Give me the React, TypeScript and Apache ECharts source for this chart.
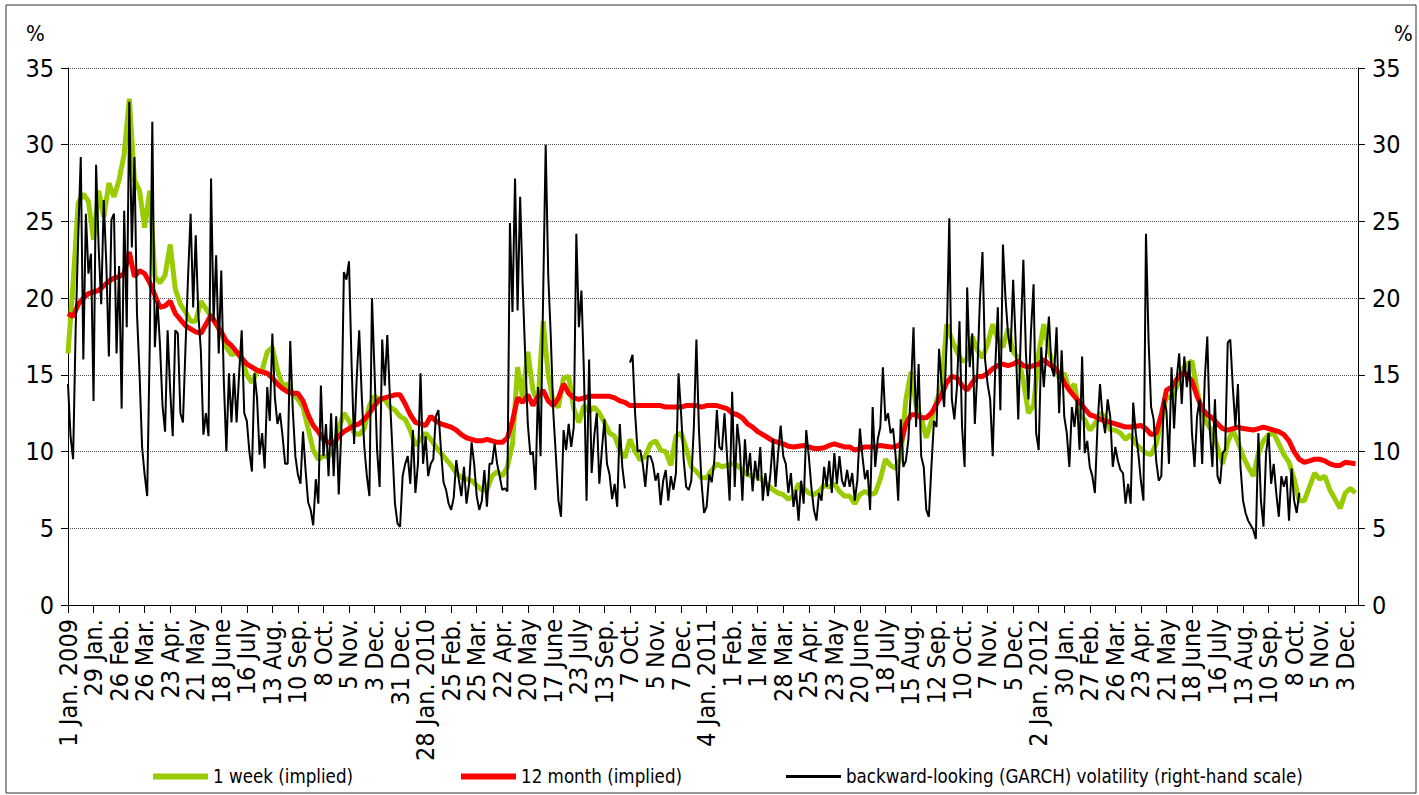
import React, { useEffect, useRef } from 'react';
import * as echarts from 'echarts';

// ---- tick labels (one every 20 business days) ----
const xLabels = [
  '1 Jan. 2009', '29 Jan.', '26 Feb.', '26 Mar.', '23 Apr.', '21 May', '18 June', '16 July', '13 Aug.', '10 Sep.',
  '8 Oct.', '5 Nov.', '3 Dec.', '31 Dec.', '28 Jan. 2010', '25 Feb.', '25 Mar.', '22 Apr.', '20 May', '17 June',
  '23 July', '13 Sep.', '7 Oct.', '5 Nov.', '7 Dec.', '4 Jan. 2011', '1 Feb.', '1 Mar.', '28 Mar.', '25 Apr.',
  '23 May', '20 June', '18 July', '15 Aug.', '12 Sep.', '10 Oct.', '7 Nov.', '5 Dec.', '2 Jan. 2012', '30 Jan.',
  '27 Feb.', '26 Mar.', '23 Apr.', '21 May', '18 June', '16 July', '13 Aug.', '10 Sep.', '8 Oct.', '5 Nov.', '3 Dec.',
];

// x unit: 1 = 4 business days; 5 units between two tick labels
const UNITS_PER_LABEL = 5;
const X_MAX = 252.5;
const WEEK_STEP = 1;   // 1 week / 12 month series sampling
const GARCH_STEP = 0.5; // GARCH series sampling

// ---- 1 week (implied), % ----
const oneWeek = [
  16.4, 21, 26.2, 26.8, 26.3, 23.8, 27, 25.3, 27.5, 26.6,
  27.7, 29.4, 33, 27.7, 27, 24.6, 27, 21.4, 21, 21.5,
  23.5, 20.6, 19.6, 19.1, 18.5, 18.5, 19.8, 19.3, 18.8, 18.3,
  17.7, 16.8, 16.3, 16.5, 16, 15, 14.5, 15.2, 15.3, 16.5,
  16.8, 15.3, 14.3, 14.4, 13.8, 13.4, 12.9, 11.5, 10.1, 9.5,
  9.7, 9.7, 10.1, 11.5, 12.5, 12, 11.2, 11.1, 11.5, 13,
  13.6, 13.4, 13.4, 12.9, 12.7, 12.3, 12.1, 11.4, 10.4, 10.8,
  11.2, 10.8, 10.3, 9.9, 9.5, 9.1, 8.6, 8.3, 8.2, 8.1,
  7.8, 7.5, 7.5, 8.4, 8.7, 8.4, 9, 10.5, 15.5, 13.5,
  16.5, 14, 13.2, 18.5, 15, 13.2, 12.9, 14.8, 14.9, 12.8,
  11.9, 13, 12.6, 12.9, 12.5, 11.9, 11.2, 11, 10.1, 9.6,
  10.8, 10, 9.45, 9.7, 10.5, 10.7, 10.1, 10, 9.1, 11,
  11.2, 10.2, 9, 8.7, 8.3, 8.3, 8.8, 9.2, 9, 9.1,
  9.2, 9.1, 8.8, 8.5, 8.4, 8.4, 8.1, 7.8, 7.5, 7.3,
  7.2, 6.9, 7.1, 7.9, 7.6, 7.3, 7.2, 7.4, 7.8, 7.7,
  7.9, 7.4, 7.1, 7.1, 6.6, 7.2, 7.4, 7.2, 7.3, 8.2,
  9.5, 9.1, 8.9, 9.6, 13.4, 15.2, 13, 12.2, 10.9, 12,
  13.3, 14.2, 18.3, 17.3, 16.5, 15.9, 16, 17.5, 16.6, 16.1,
  17, 18.3, 17.3, 16.8, 18, 16.5, 16.1, 14.6, 12.5, 13,
  16.4, 18.3, 16.6, 15.5, 14.8, 15.1, 14, 14.4, 12.4, 12.1,
  11.4, 11.8, 12.5, 12.3, 11.4, 11.4, 11.2, 10.8, 11.1, 10.5,
  10.2, 9.9, 9.8, 10.5, 12, 13.6, 13.5, 14.2, 15.3, 15.7,
  15.9, 14, 12.5, 11.8, 11.3, 10.3, 9.2, 10.6, 11.4, 10.6,
  9.7, 9, 8.4, 9.9, 10.7, 11.1, 11.2, 10.5, 9.8, 9.3,
  8.2, 6.8, 6.8, 7.7, 8.6, 8.2, 8.4, 7.5, 6.9, 6.3,
  7.3, 7.6, 7.3,
];

// ---- 12 month (implied), % ----
const twelveMonth = [
  19.0, 18.8, 19.6, 20.0, 20.3, 20.4, 20.5, 20.8, 21.1, 21.3,
  21.4, 21.6, 23.0, 21.4, 21.8, 21.6, 21, 20.2, 19.4, 19.5,
  19.8, 19.0, 18.6, 18.2, 18, 17.8, 17.7, 18.3, 18.9, 18.3,
  17.8, 17.2, 16.9, 16.5, 16.1, 15.7, 15.5, 15.3, 15.2, 15.1,
  14.8, 14.4, 14.1, 13.9, 13.8, 13.8, 13.3, 12.4, 11.7, 11.3,
  10.8, 10.6, 10.5, 11.0, 11.3, 11.5, 11.7, 11.8, 12.1, 12.5,
  13.0, 13.4, 13.5, 13.6, 13.7, 13.7, 13.1, 12.4, 11.9, 11.8,
  11.7, 12.3, 12.0, 11.8, 11.7, 11.6, 11.4, 11.1, 10.9, 10.8,
  10.7, 10.7, 10.8, 10.7, 10.6, 10.6, 10.9, 12, 13.5, 13.2,
  13.7, 13, 13.6, 14.0, 13.3, 13.0, 13.5, 14.4, 13.8, 13.5,
  13.4, 13.5, 13.6, 13.6, 13.6, 13.6, 13.6, 13.5, 13.3, 13.2,
  13.0, 13.0, 13.0, 13.0, 13.0, 13.0, 13.0, 12.9, 12.9, 12.9,
  12.9, 13.0, 13.0, 13.0, 12.9, 13.0, 13.0, 13.0, 12.9, 12.8,
  12.5, 12.4, 12.2, 11.8, 11.6, 11.3, 11.1, 10.9, 10.7, 10.6,
  10.5, 10.35, 10.3, 10.35, 10.4, 10.3, 10.2, 10.2, 10.25, 10.4,
  10.5, 10.4, 10.3, 10.3, 10.1, 10.2, 10.3, 10.3, 10.3, 10.4,
  10.35, 10.3, 10.3, 10.5, 11.8, 12.4, 12.4, 12.2, 12.2, 12.5,
  13.1, 13.7, 14.5, 14.9, 14.8, 14.3, 14, 14.5, 14.9, 14.9,
  15.1, 15.4, 15.6, 15.7, 15.6, 15.7, 15.9, 15.6, 15.5, 15.6,
  15.7, 16.0, 15.7, 15.5, 15.1, 14.5, 14, 13.6, 13.2, 12.8,
  12.4, 12.3, 12.1, 12.0, 11.9, 11.8, 11.7, 11.6, 11.6, 11.65,
  11.7, 11.5, 11.1, 11.2, 12.4, 14, 14.2, 14.7, 15.1, 15.0,
  14.6, 13.6, 12.8, 12.4, 12.2, 11.8, 11.5, 11.4, 11.5, 11.6,
  11.5, 11.45, 11.4, 11.5, 11.6, 11.5, 11.4, 11.3, 11.1, 10.7,
  10.0, 9.5, 9.3, 9.4, 9.5, 9.5, 9.4, 9.2, 9.1, 9.1,
  9.3, 9.25, 9.2,
];

// ---- backward-looking (GARCH) volatility, % (right-hand scale) ----
const garch: (number | null)[] = [
  14.4, 11, 9.5, 18, 24, 29.2, 16, 25.5, 21.6, 22.9,
  13.3, 28.7, 23.3, 19.6, 26.4, 22.2, 16.2, 25.1, 25.5, 16.4,
  22.1, 12.8, 25.7, 18.1, 32.8, 23.3, 29.2, 19, 15.1, 10.3,
  8.5, 7.1, 17, 31.5, 16.8, 19.8, 17, 13, 11.3, 17.9,
  14, 11, 17.9, 17.7, 12.5, 11.9, 16.8, 21.4, 25.5, 19.4,
  24.1, 19, 16.6, 11.1, 12.5, 11, 27.8, 18.5, 22.8, 16.4,
  21.8, 14.6, 10, 15.1, 11.9, 15.1, 11.9, 15.1, 17.9, 12.5,
  12, 10, 8.7, 15.1, 13.5, 9.8, 11.2, 8.9, 14.2, 12,
  17.7, 13.5, 11.8, 12.5, 11, 9.2, 9.2, 17.2, 12.7, 9.7,
  8.5, 7.9, 11.3, 8.8, 6.7, 6.2, 5.2, 8.2, 6.6, 14.3,
  9.7, 11.8, 8.4, 12.5, 8.4, 12.3, 7.2, 11.4, 21.7, 21.2,
  22.4, 15.8, 10.5, 14.7, 17.9, 13.6, 10.3, 8.4, 7.1, 20,
  15.2, 10.1, 7.7, 17.3, 14.3, 17.6, 13.6, 10.1, 6.6, 5.3,
  5.1, 8.4, 9.2, 9.7, 7.9, 11.4, 7.3, 9.2, 15.1, 9.2,
  11, 8.4, 9.2, 9.5, 12.3, 12.7, 10.1, 8, 7.5, 6.6,
  6.2, 7, 9.45, 8.15, 7.1, 9, 6.6, 7.9, 10.6, 9.2,
  7.1, 6.2, 6.8, 8.8, 6.4, 9.2, 9.2, 10.5, 9.2, 8.4,
  7.5, 7.6, 7.4, 24.9, 19.1, 27.8, 19.2, 26.6, 20.8, 16.2,
  11.8, 9.8, 10, 7.5, 14.2, 9.7, 20.1, 30, 21.5, 17.5,
  12.5, 9.7, 6.8, 5.75, 11.4, 10.1, 11.8, 10.3, 11.6, 24.2,
  18.1, 20.5, 15, 6.8, 16, 8.6, 11, 12.5, 7.9, 10.1,
  12.1, 9.2, 8.5, 6.9, 7.9, 6.4, 11.8, 9, 7.6, null,
  15.8, 16.3, 12.5, 10, 10.1, 9.2, 7.7, 9.7, 9.7, 9.2,
  8.1, 8.6, 6.5, 8.1, 8.8, 6.8, 8.4, 7.5, 8.6, 15.1,
  12.5, 9.5, 7.7, 7.5, 8.1, 11.6, 17.3, 11.4, 8, 6,
  6.4, 8.5, 8, 9.4, 12.7, 10.3, 10.1, 12.5, 9.7, 6.8,
  13.9, 7.7, 11.8, 10.3, 6.8, 10.8, 8.4, 9.9, 7.4, 9.4,
  8.1, 10.3, 6.8, 8.6, 7.1, 8.6, 10.8, 7.7, 9.9, 11.7,
  9.7, 9.2, 7.3, 8.6, 6.4, 7.5, 5.5, 8.1, 6.6, 11.4,
  9.7, 7.7, 6.2, 5.5, 7.3, 6.8, 9, 7.7, 9.4, 7.3,
  9.9, 7.9, 9.7, 8.1, 7.7, 8.8, 7.7, 8.6, 6.8, 8.1,
  11.5, 9.7, 8.2, 8.8, 6.2, 12.9, 9, 10.8, 11.6, 15.5,
  12, 12.5, 11.2, 11.5, 9.7, 6.8, 12.1, 9, 9.4, 10.8,
  14.2, 18.1, 11.6, 15.7, 9.7, 9, 6.2, 5.75, 9, 12,
  11.6, 16.7, 14.4, 12.9, 17.3, 25.2, 13.4, 12.1, 14.2, 18.5,
  11.6, 9, 20.7, 15.5, 17.7, 11.8, 15.3, 19.9, 23, 16,
  14.4, 13.4, 9.7, 15.5, 19.4, 12.7, 23.5, 20, 17.7, 16.5,
  21.2, 17.1, 12.1, 17.7, 22.5, 16.4, 13.4, 17.9, 20.9, 11.2,
  10.1, 16.8, 14.2, 16.6, 18.8, 15.5, 14.9, 18.1, 12.5, 16.6,
  12.3, 11.2, 9, 12.9, 11.6, 13.4, 10.1, 16.2, 9.9, 10.7,
  9, 8.4, 7.3, 11.6, 14.4, 12.3, 11.2, 13.4, 12.3, 9,
  10.3, 9.4, 8.8, 8.6, 6.6, 7.9, 6.6, 13.2, 11.2, 9.9,
  8.1, 6.8, 24.2, 17.3, 12.9, 12.1, 9.4, 8.1, 8.4, 13.4,
  12.7, 9.2, 15.5, 11.5, 14.7, 16.4, 13.1, 16.2, 14.2, 15.9,
  11.2, 9, 12.3, 13.4, 9.2, 14.7, 17.5, 11.4, 9, 13.4,
  8.4, 7.9, 9.9, 10.1, 17.1, 17.3, 14.2, 11.6, 14.4, 9,
  6.8, 6, 5.5, 5.2, 4.9, 4.3, 11.2, 6.8, 5.1, 9.9,
  11.2, 7.9, 9.2, 7.3, 5.75, 8.4, 7.7, 8.4, 5.5, 8.9,
  6.8, 6, 7.3,
];

const seriesNames = [
  '1 week (implied)',
  '12 month (implied)',
  'backward-looking (GARCH) volatility (right-hand scale)',
];

const FONT = "'Liberation Sans Narrow', 'DejaVu Sans Condensed', 'Liberation Sans', sans-serif";

export default function App() {
  const ref = useRef<HTMLDivElement>(null);

  useEffect(() => {
    if (!ref.current) return;
    const chart = echarts.init(ref.current, undefined, { renderer: 'svg' });

    const toPairs = (arr: (number | null)[], step: number) =>
      arr.map((v, i) => [i * step, v === null ? '-' : v]);

    const yAxisCommon = {
      type: 'value',
      min: 0,
      max: 35,
      interval: 5,
      axisLine: { show: true, lineStyle: { color: '#000', width: 1 } },
      axisTick: { show: true, inside: false, length: 7, lineStyle: { color: '#000' } },
      axisLabel: { color: '#000', fontSize: 25, fontFamily: FONT, margin: 14 },
    };

    const legendCommon = {
      icon: 'rect',
      itemWidth: 55,
      top: 767,
      padding: 0,
      textStyle: { fontSize: 18.6, fontFamily: FONT, color: '#000' },
      selectedMode: false,
    };

    chart.setOption({
      animation: false,
      backgroundColor: '#fff',
      textStyle: { fontFamily: FONT },
      grid: { left: 68, right: 61, top: 68, bottom: 190, containLabel: false },
      xAxis: {
        type: 'value',
        min: 0,
        max: X_MAX,
        interval: UNITS_PER_LABEL,
        splitLine: { show: false },
        axisLine: { show: true, onZero: false, lineStyle: { color: '#000', width: 1 } },
        axisTick: { show: true, length: 8, lineStyle: { color: '#000' } },
        axisLabel: {
          rotate: 90,
          margin: 14,
          color: '#000',
          fontSize: 25,
          fontFamily: FONT,
          showMaxLabel: false,
          formatter: (v: number) => {
            const k = Math.round(v / UNITS_PER_LABEL);
            if (Math.abs(k * UNITS_PER_LABEL - v) > 1e-6) return '';
            return xLabels[k] ?? '';
          },
        },
      },
      yAxis: [
        {
          ...yAxisCommon,
          position: 'left',
          splitLine: { show: true, lineStyle: { color: '#555', type: 'dotted', width: 1 } },
        },
        {
          ...yAxisCommon,
          position: 'right',
          splitLine: { show: false },
        },
      ],
      legend: [
        { ...legendCommon, left: 153, itemHeight: 6, data: [seriesNames[0]] },
        { ...legendCommon, left: 461, itemHeight: 6, data: [seriesNames[1]] },
        { ...legendCommon, left: 786, itemHeight: 3, data: [seriesNames[2]] },
      ],
      graphic: [
        { type: 'rect', shape: { x: 6, y: 5, width: 1410, height: 788 }, style: { fill: 'none', stroke: '#333', lineWidth: 1 }, silent: true },
        { type: 'text', x: 26, y: 22, style: { text: '%', fontSize: 22, fontFamily: FONT, fill: '#000' } },
        { type: 'text', x: 1394, y: 22, style: { text: '%', fontSize: 22, fontFamily: FONT, fill: '#000' } },
      ],
      series: [
        {
          name: seriesNames[0],
          type: 'line',
          yAxisIndex: 0,
          color: '#99CC00',
          showSymbol: false,
          symbol: 'none',
          lineStyle: { color: '#99CC00', width: 5 },
          data: toPairs(oneWeek, WEEK_STEP),
          z: 2,
        },
        {
          name: seriesNames[1],
          type: 'line',
          yAxisIndex: 0,
          color: '#FF0000',
          showSymbol: false,
          symbol: 'none',
          lineStyle: { color: '#FF0000', width: 5 },
          data: toPairs(twelveMonth, WEEK_STEP),
          z: 3,
        },
        {
          name: seriesNames[2],
          type: 'line',
          yAxisIndex: 1,
          color: '#000000',
          showSymbol: false,
          symbol: 'none',
          connectNulls: false,
          lineStyle: { color: '#000000', width: 2 },
          data: toPairs(garch, GARCH_STEP),
          z: 4,
        },
      ],
    });

    return () => chart.dispose();
  }, []);

  return (
    <div
      ref={ref}
      style={{ position: 'fixed', left: 0, top: 0, width: 1419, height: 795, background: '#fff' }}
    />
  );
}
